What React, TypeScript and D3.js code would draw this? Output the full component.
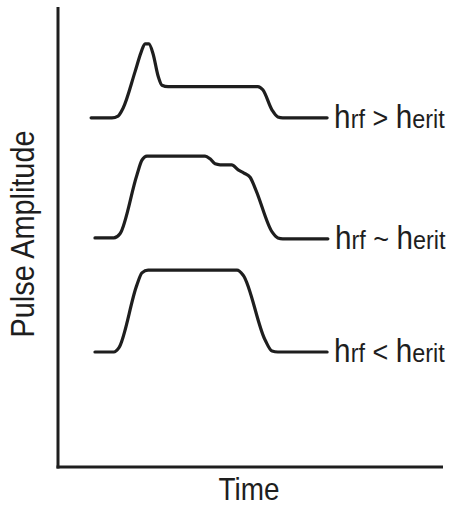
import React from 'react';
import * as d3 from 'd3';

// pulse shapes: time and amplitude on a 0-100 frame
const highTime = [8.6, 14.0, 15.6, 16.9, 20.0, 21.6, 22.6, 23.6, 24.7, 26.0, 27.0, 28.6, 51.9, 53.2, 55.6, 57.1, 58.4, 69.9];
const highAmp = [75.9, 75.9, 76.3, 78.0, 85.9, 90.2, 92.0, 92.0, 89.8, 85.0, 83.0, 82.7, 82.7, 82.0, 77.6, 76.1, 75.9, 75.9];

const critTime = [9.6, 14.5, 16.1, 20.5, 21.8, 23.1, 38.2, 39.5, 40.8, 42.1, 45.1, 46.8, 48.3, 49.9, 51.4, 55.6, 57.1, 58.4, 70.1];
const critAmp = [49.8, 49.8, 50.7, 63.5, 66.7, 67.6, 67.6, 67.0, 65.9, 65.7, 65.7, 64.6, 63.9, 63.0, 60.2, 51.1, 49.8, 49.6, 49.6];

const lowTime = [9.6, 14.5, 15.8, 20.5, 21.8, 23.4, 46.5, 48.1, 53.8, 55.6, 57.1, 69.9];
const lowAmp = [25.0, 25.0, 25.9, 39.6, 42.2, 42.8, 42.8, 41.7, 27.6, 25.2, 25.0, 25.0];

const curveSub = ['rf', 'rf', 'rf'];
const curveOps = ['>', '~', '<'];
const critSub = ['erit', 'erit', 'erit'];

const xTitle = 'Time';
const yTitle = 'Pulse Amplitude';

const W = 454;
const H = 505;
const font = "'Liberation Sans', Arial, sans-serif";
const ink = '#1e1e1e';

export default function App() {
  const x = d3.scaleLinear().domain([0, 100]).range([58, 443]);
  const y = d3.scaleLinear().domain([0, 100]).range([467, 7]);

  const series = [
    { t: highTime, a: highAmp },
    { t: critTime, a: critAmp },
    { t: lowTime, a: lowAmp },
  ];

  const line = d3.line<[number, number]>()
    .x(d => x(d[0]))
    .y(d => y(d[1]))
    .curve(d3.curveMonotoneX);

  return (
    <svg width={W} height={H} style={{ position: 'absolute', left: 0, top: 0, background: '#fff' }}>
      {/* axes: just two lines, no ticks */}
      <line x1={x(0)} x2={x(0)} y1={y(100)} y2={y(0) + 1.5} stroke={ink} strokeWidth={3} />
      <line x1={x(0) - 1.5} x2={x(100)} y1={y(0)} y2={y(0)} stroke={ink} strokeWidth={3} />

      {series.map((s, i) => {
        const pts = s.t.map((t, j) => [t, s.a[j]] as [number, number]);
        const last = pts[pts.length - 1];
        return (
          <g key={i}>
            <path d={line(pts) || ''} fill="none" stroke={ink} strokeWidth={3.2} strokeLinejoin="round" strokeLinecap="round" />
            {/* condensed look: squeeze the label horizontally */}
            <text transform={`translate(${x(last[0]) + 7},${y(last[1]) + 10}) scale(0.9,1)`}
              fontFamily={font} fill={ink}>
              <tspan fontSize={33}>h</tspan>
              <tspan fontSize={26}>{curveSub[i]}</tspan>
              <tspan fontSize={30}>{' ' + curveOps[i] + ' '}</tspan>
              <tspan fontSize={33}>h</tspan>
              <tspan fontSize={26}>{critSub[i]}</tspan>
            </text>
          </g>
        );
      })}

      <text transform={`translate(249,500) scale(0.9,1)`} textAnchor="middle" fontFamily={font} fontSize={31} fill={ink}>{xTitle}</text>
      <text transform={`translate(34,234) rotate(-90) scale(0.875,1)`} textAnchor="middle" fontFamily={font} fontSize={33} fill={ink}>{yTitle}</text>
    </svg>
  );
}
